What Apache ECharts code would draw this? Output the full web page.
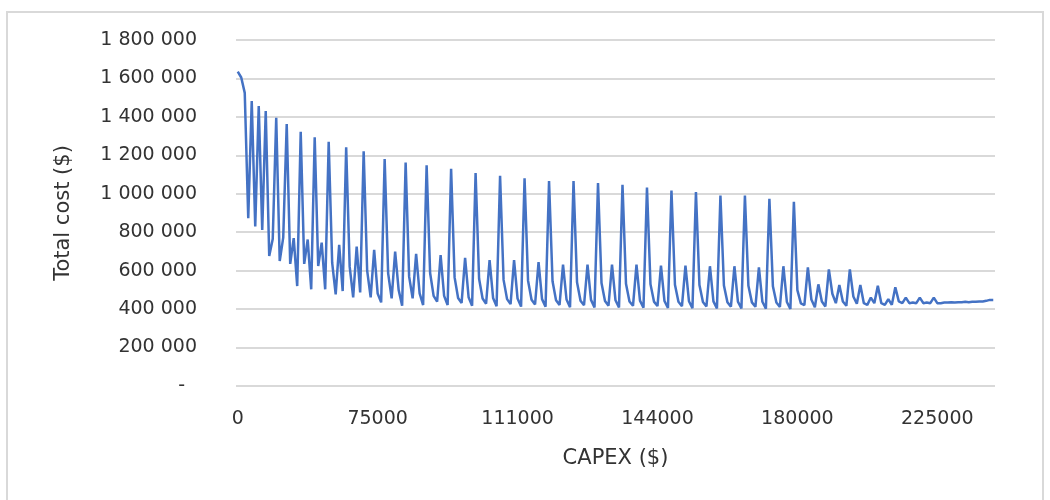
<!DOCTYPE html>
<html>
<head>
<meta charset="utf-8">
<title>Total cost vs CAPEX</title>
<script src="https://cdn.jsdelivr.net/npm/echarts@6/dist/echarts.min.js"></script>
<style>
    html, body { margin: 0; padding: 0; background: #fff; }
    #char { width: 1050px; height: 500px; }
</style>
</head>
<body>
<div id="char"></div>
<script>
// tick labels on the CAPEX axis, one every 40 points
var capexTicks = ['0', '75000', '111000', '144000', '180000', '225000'];
var tickStep = 40;

// total cost ($) for each point
var totalCost = [
    1635000, 1605000, 1525000, 873000, 1482000, 830000, 1456000, 812000, 1430000, 676000,
    765000, 1395000, 650000, 772000, 1363000, 635000, 769000, 520000, 1322000, 635000,
    762000, 503000, 1294000, 624000, 746000, 503000, 1270000, 640000, 477000, 734000,
    494000, 1242000, 621000, 461000, 725000, 487000, 1221000, 600000, 461000, 708000,
    481000, 435000, 1181000, 586000, 456000, 699000, 500000, 417000, 1163000, 569000,
    456000, 687000, 482000, 421000, 1148000, 588000, 469000, 439000, 681000, 469000,
    421000, 1130000, 565000, 458000, 432000, 667000, 462000, 418000, 1108000, 558000,
    455000, 428000, 655000, 458000, 415000, 1094000, 552000, 452000, 426000, 655000,
    455000, 413000, 1080000, 548000, 449000, 424000, 644000, 452000, 412000, 1066000,
    545000, 446000, 422000, 632000, 450000, 410000, 1066000, 540000, 444000, 420000,
    632000, 448000, 409000, 1056000, 536000, 442000, 418000, 632000, 446000, 408000,
    1047000, 532000, 440000, 417000, 631000, 444000, 407000, 1033000, 530000, 439000,
    416000, 626000, 442000, 406000, 1017000, 527000, 438000, 415000, 626000, 441000,
    405000, 1009000, 525000, 437000, 414000, 623000, 440000, 404000, 991000, 523000,
    436000, 413000, 623000, 439000, 403000, 991000, 521000, 435000, 412000, 617000,
    438000, 402000, 974000, 519000, 434000, 411000, 623000, 437000, 401000, 958000,
    499000, 430000, 421000, 617000, 450000, 410000, 529000, 440000, 414000, 607000,
    480000, 431000, 526000, 440000, 417000, 607000, 466000, 428000, 526000, 431000,
    422000, 460000, 431000, 521000, 431000, 422000, 452000, 422000, 514000, 440000,
    431000, 460000, 431000, 434000, 431000, 460000, 431000, 434000, 431000, 460000,
    431000, 431000, 434000, 434000, 436000, 434000, 436000, 436000, 438000, 436000,
    438000, 438000, 440000, 440000, 443000, 448000, 448000
];

var categories = [];
for (var i = 0; i < totalCost.length; i++) {
    categories.push(i % tickStep === 0 ? (capexTicks[i / tickStep] || '') : '');
}

// 1800000 -> "1 800 000", zero shown as a dash like excel
function spaced(v) {
    if (v === 0) return '{z|-}';
    return String(v).replace(/\B(?=(\d{3})+(?!\d))/g, ' ');
}

var dom = document.getElementById('char');
var myChart = echarts.init(dom);

var option = {
    backgroundColor: '#fff',
    animation: false,
    textStyle: { fontFamily: 'DejaVu Sans' },
    graphic: [{
        type: 'rect',
        shape: { x: 7, y: 12, width: 1036, height: 500 },
        style: { fill: 'none', stroke: '#d9d9d9', lineWidth: 2 },
        silent: true
    }],
    grid: {
        left: 236,
        right: 55,
        top: 40,
        bottom: 114
    },
    xAxis: {
        type: 'category',
        data: categories,
        boundaryGap: true,
        name: 'CAPEX ($)',
        nameLocation: 'middle',
        nameGap: 62,
        nameTextStyle: { fontSize: 21, color: '#333' },
        axisLine: { show: false },
        axisTick: { show: false },
        axisLabel: {
            interval: tickStep - 1,
            margin: 24,
            fontSize: 19,
            color: '#333'
        }
    },
    yAxis: {
        type: 'value',
        min: 0,
        max: 1800000,
        interval: 200000,
        name: 'Total cost ($)',
        nameLocation: 'middle',
        nameGap: 162,
        nameTextStyle: { fontSize: 21, color: '#333' },
        axisLine: { show: false },
        axisTick: { show: false },
        axisLabel: {
            margin: 39,
            fontSize: 19,
            color: '#333',
            formatter: spaced,
            rich: {
                z: { fontSize: 19, color: '#333', padding: [0, 12, 0, 0] }
            }
        },
        splitLine: {
            lineStyle: { color: '#d9d9d9', width: 2 }
        }
    },
    series: [{
        type: 'line',
        data: totalCost,
        showSymbol: false,
        symbol: 'none',
        lineStyle: { color: '#4472C4', width: 2.5 },
        itemStyle: { color: '#4472C4' }
    }]
};

myChart.setOption(option);
</script>
</body>
</html>
